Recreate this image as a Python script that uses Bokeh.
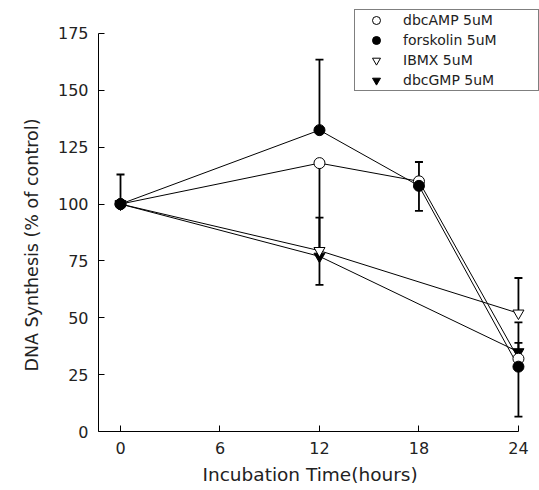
from bokeh.plotting import figure
from bokeh.models import Legend, LegendItem, Range1d, FixedTicker, Title
from bokeh.embed import file_html
from bokeh.resources import INLINE

# ---- data ----
t_camp = [0, 12, 18, 24]
dbcAMP = [100, 118, 110, 32]
t_forsk = [0, 12, 18, 24]
forskolin = [100, 132.5, 108, 28.5]
t_ibmx = [0, 12, 24]
IBMX = [100, 79.5, 52]
t_cgmp = [0, 12, 24]
dbcGMP = [100, 77, 35]

# error bars: (time, from value, to value)
err_t = [0, 12, 12, 12, 12, 18, 18, 24, 24, 24, 24]
err_from = [100, 132.5, 118, 79.5, 77, 110, 108, 52, 35, 32, 28.5]
err_to = [113, 163.5, 80, 94, 64.5, 118.5, 97, 67.5, 48, 39, 6.5]

x_ticks = [0, 6, 12, 18, 24]
y_ticks = [0, 25, 50, 75, 100, 125, 150, 175]
x_title = "Incubation Time(hours)"
y_title = "DNA Synthesis (% of control)"

FONT = "DejaVu Sans"
TXT = "#222222"

p = figure(width=539, height=490, output_backend="svg", toolbar_location=None,
           x_range=Range1d(-1.327, 25.27), y_range=Range1d(0, 187.3),
           min_border_left=98, min_border_right=0, min_border_top=5,
           min_border_bottom=59)
p.outline_line_color = None
p.grid.visible = False
p.background_fill_color = "white"
p.border_fill_color = "white"

for ax in (p.xaxis[0], p.yaxis[0]):
    ax.major_tick_in = 6
    ax.major_tick_out = 0
    ax.minor_tick_in = 0
    ax.minor_tick_out = 0
    ax.axis_line_color = "black"
    ax.axis_line_width = 1
    ax.major_tick_line_color = "black"
    ax.major_label_text_font = FONT
    ax.major_label_text_font_size = "16px"
    ax.major_label_text_color = TXT
    ax.major_label_standoff = 10

p.xaxis.ticker = FixedTicker(ticks=x_ticks)
p.yaxis.ticker = FixedTicker(ticks=y_ticks)
p.xaxis.bounds = (-1.327, 24)
p.yaxis.bounds = (0, 175)

# axis titles as side-panel titles so they can be placed off the frame centre
xt = Title(text=x_title, align="left", offset=104, text_font=FONT,
           text_font_size="18.5px", text_font_style="normal", text_color=TXT,
           standoff=11, text_line_height=0.75)
yt = Title(text=y_title, align="left", offset=60, text_font=FONT,
           text_font_size="17.5px", text_font_style="normal", text_color=TXT,
           standoff=26)
p.add_layout(xt, "below")
p.add_layout(yt, "left")

# error bars
p.segment(x0=err_t, y0=err_from, x1=err_t, y1=err_to, line_color="black", line_width=1.8)
p.scatter(x=err_t, y=err_to, marker="dash", size=8, line_color="black", line_width=1.8)

# lines
p.line(t_cgmp, dbcGMP, line_color="black", line_width=1)
p.line(t_ibmx, IBMX, line_color="black", line_width=1)
p.line(t_camp, dbcAMP, line_color="black", line_width=1)
p.line(t_forsk, forskolin, line_color="black", line_width=1)

# markers
r_cgmp = p.scatter(t_cgmp, dbcGMP, marker="inverted_triangle", size=11,
                   fill_color="black", line_color="black")
r_ibmx = p.scatter(t_ibmx, IBMX, marker="inverted_triangle", size=11,
                   fill_color="white", line_color="black", line_width=1)
r_camp = p.scatter(t_camp, dbcAMP, marker="circle", size=11,
                   fill_color="white", line_color="black", line_width=1)
r_forsk = p.scatter(t_forsk, forskolin, marker="circle", size=11,
                    fill_color="black", line_color="black")

legend = Legend(items=[
    LegendItem(label="dbcAMP 5uM", renderers=[r_camp]),
    LegendItem(label="forskolin 5uM", renderers=[r_forsk]),
    LegendItem(label="IBMX 5uM", renderers=[r_ibmx]),
    LegendItem(label="dbcGMP 5uM", renderers=[r_cgmp]),
], location=(256, 340))
legend.padding = 0
legend.margin = 0
legend.glyph_height = 20
legend.glyph_width = 42
legend.label_height = 20
legend.spacing = 0
legend.label_standoff = 6
legend.label_width = 135
legend.label_text_font = FONT
legend.label_text_font_size = "14px"
legend.label_text_color = TXT
legend.border_line_color = "black"
legend.border_line_width = 1
legend.background_fill_color = "white"
legend.background_fill_alpha = 1
p.add_layout(legend, "center")

open("out.html", "w").write(file_html(p, INLINE))
